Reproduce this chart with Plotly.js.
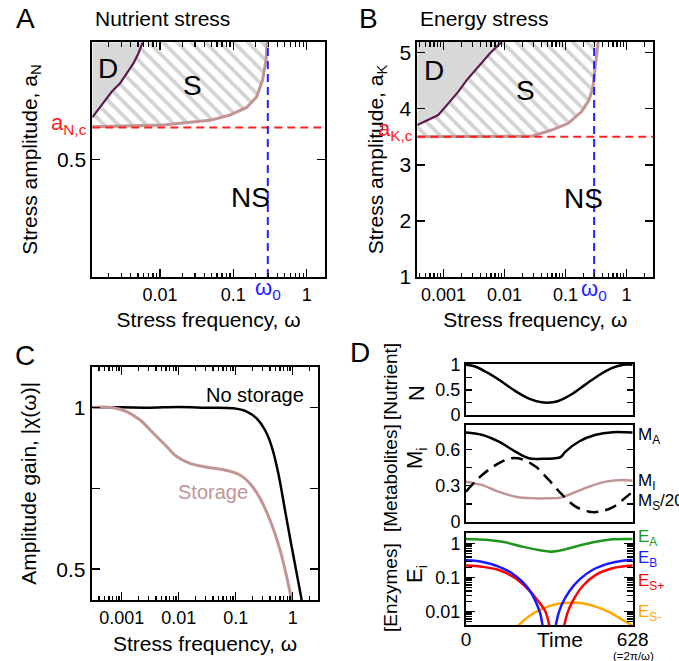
<!DOCTYPE html>
<html><head><meta charset="utf-8">
<script src="https://cdn.plot.ly/plotly-3.0.1.min.js"></script>
<style>html,body{margin:0;padding:0;background:#fff}#c{width:679px;height:661px}</style>
</head><body><div id="c"></div><script>
// ---------------- DATA ----------------
// Panel A: nutrient stress phase diagram
const aN_c = 0.555;
const omega0 = 0.295;
const A_D_omega = [0.00119, 0.00178, 0.00219, 0.00285, 0.00351, 0.00433, 0.00506, 0.00581];
const A_D_amp   = [0.572, 0.6015, 0.6157, 0.630, 0.647, 0.664, 0.681, 0.700];
const A_S_omega = [0.00119, 0.0111, 0.0481, 0.0901, 0.152, 0.208, 0.251, 0.279, 0.290];
const A_S_amp   = [0.556, 0.559, 0.567, 0.576, 0.589, 0.607, 0.636, 0.670, 0.700];
// Panel B: energy stress phase diagram
const aK_c = 3.5;
const B_D_omega = [0.000372, 0.00082, 0.0012, 0.00175, 0.0024, 0.00372, 0.00578, 0.0090];
const B_D_amp   = [3.709, 3.888, 4.096, 4.304, 4.51, 4.75, 4.99, 5.19];
const B_S_omega = [0.000372, 0.0279, 0.0593, 0.111, 0.184, 0.243, 0.279, 0.304, 0.324, 0.344];
const B_S_amp   = [3.5, 3.51, 3.62, 3.74, 3.95, 4.155, 4.36, 4.69, 4.99, 5.19];
// Panel C: amplitude gain
const C_noStor_omega = [0.000309, 0.001, 0.003, 0.01, 0.03, 0.0912, 0.156, 0.233, 0.327, 0.429, 0.561, 0.733, 0.959, 1.175, 1.44];
const C_noStor_gain  = [1.0, 1.0, 0.999, 1.001, 0.999, 0.997, 0.987, 0.966, 0.930, 0.879, 0.796, 0.683, 0.570, 0.488, 0.405];
const C_stor_omega = [0.000309, 0.000714, 0.00122, 0.0021, 0.0036, 0.00615, 0.00923, 0.0158, 0.031, 0.0695, 0.119, 0.178, 0.267, 0.4, 0.6, 0.785, 0.96];
const C_stor_gain  = [1.0, 0.999, 0.987, 0.961, 0.920, 0.879, 0.848, 0.827, 0.815, 0.805, 0.791, 0.765, 0.719, 0.652, 0.560, 0.477, 0.405];
// Panel D: time courses over one period (0..628)
const D_N_t = [0, 34, 84, 134, 185, 235, 285, 317, 348, 398, 448, 499, 549, 593, 628];
const D_N   = [1.0, 0.967, 0.833, 0.667, 0.48, 0.333, 0.253, 0.247, 0.28, 0.413, 0.6, 0.787, 0.933, 1.0, 1.0];
const D_MA_t = [0, 59, 122, 186, 236, 287, 337, 356, 375, 426, 489, 552, 628];
const D_MA   = [0.738, 0.719, 0.664, 0.581, 0.526, 0.521, 0.526, 0.535, 0.581, 0.664, 0.719, 0.741, 0.738];
const D_MI_t = [0, 59, 122, 186, 249, 312, 356, 401, 464, 527, 590, 628];
const D_MI   = [0.333, 0.306, 0.25, 0.209, 0.196, 0.196, 0.201, 0.237, 0.292, 0.333, 0.347, 0.341];
const D_MS_t = [0, 34, 85, 135, 172, 211, 262, 312, 363, 413, 464, 502, 552, 590, 628];
const D_MS20 = [0.25, 0.333, 0.43, 0.498, 0.526, 0.518, 0.457, 0.347, 0.223, 0.127, 0.085, 0.085, 0.121, 0.182, 0.25];
const D_EA_t = [0, 85, 148, 211, 274, 318, 362, 425, 489, 552, 628];
const D_EA   = [1.36, 1.27, 1.08, 0.81, 0.64, 0.575, 0.64, 0.86, 1.13, 1.33, 1.36];
const D_EB_t = [0, 59, 123, 173, 211, 243, 268, 281, 289, null, 337, 347, 360, 388, 426, 476, 540, 590, 628];
const D_EB   = [0.327, 0.29, 0.209, 0.133, 0.076, 0.038, 0.0155, 0.0079, 0.0035, null, 0.0035, 0.0079, 0.0155, 0.038, 0.085, 0.166, 0.26, 0.31, 0.327];
const D_ESp_t = [0, 59, 123, 186, 236, 274, 299, 315, null, 369, 382, 401, 438, 489, 552, 628];
const D_ESp   = [0.223, 0.207, 0.166, 0.095, 0.043, 0.0194, 0.01, 0.0035, null, 0.0035, 0.0089, 0.0194, 0.054, 0.119, 0.186, 0.223];
const D_ESm_t = [192, 236, 287, 337, 388, 438, 489, 540, 590, 625, 628];
const D_ESm   = [0.0035, 0.0071, 0.0118, 0.0163, 0.0181, 0.0174, 0.0138, 0.0095, 0.0056, 0.0038, 0.0035];
// Tick labels
const tickA_x = [0.01, 0.1, 1],            tickA_xt = ['0.01', '0.1', '1'];
const tickBC_x = [0.001, 0.01, 0.1, 1],    tickBC_xt = ['0.001', '0.01', '0.1', '1'];
const tickD_E = [0.01, 0.1, 1],            tickD_Et = ['0.01', '0.1', '1'];
const tickD_t = [0, 628],                  tickD_tt = ['0', '628'];

// ---------------- STYLE / LAYOUT ----------------
const W = 679, H = 661;
const FONT = 'Liberation Sans, Arial, sans-serif';
const ROSY = '#c29595', PLUM = '#5e1a4e', GRAYF = '#d8d8d8';
const px = (a, b) => [a / W, b / W];
const py = (top, bot) => [1 - bot / H, 1 - top / H];
const PX = v => v / W, PY = v => 1 - v / H;

const rangeAx = [-2.924, 0.25], rangeAy = [0.3, 0.7];
const rangeBx = [-3.43, 0.44], rangeBy = [1, 5.19];
const rangeCx = [-3.526, 0.45], rangeCy = [0.405, 1.1255];
const rangeD6 = [-2.4, 0.3];

function axis(o) {
  return Object.assign({
    showline: true, linecolor: '#000', linewidth: 2, mirror: 'allticks',
    ticks: 'inside', ticklen: 8, tickwidth: 1.5, tickcolor: '#000',
    showgrid: false, zeroline: false, fixedrange: true,
    tickfont: { family: FONT, size: 18, color: '#000' }
  }, o);
}
// minor log tick positions (2..9 within each decade)
function minorVals(lo, hi) {
  const v = [];
  for (let e = Math.floor(lo); e <= Math.ceil(hi); e++) {
    for (let m = 2; m <= 9; m++) {
      const val = m * Math.pow(10, e), l = Math.log10(val);
      if (l > lo && l < hi) v.push(val);
    }
  }
  return v;
}
const minorLog = (r, len) => ({ tickmode: 'array', tickvals: minorVals(r[0], r[1]), ticks: 'inside',
  ticklen: len || 4.5, tickwidth: 1.2, tickcolor: '#000', showgrid: false });
const ttl = (t, s) => ({ text: t, font: { family: FONT, size: s || 21, color: '#000' } });

const traces = [];
function phase(xa, ya, Dw, Da, Sw, Sa, xr, yr, crit, w0) {
  const xmin = Math.pow(10, xr[0]), xmax = Math.pow(10, xr[1]);
  traces.push({ x: [...Dw, xmin], y: [...Da, yr[1]], xaxis: xa, yaxis: ya, type: 'scatter', mode: 'lines',
    fill: 'toself', fillcolor: GRAYF, line: { width: 0 }, hoverinfo: 'skip', showlegend: false });
  traces.push({ x: [...Sw, ...Dw.slice().reverse()], y: [...Sa, ...Da.slice().reverse()], xaxis: xa, yaxis: ya,
    type: 'scatter', mode: 'lines', fill: 'toself', fillcolor: '#fff',
    fillpattern: { shape: '\\', bgcolor: '#fff', fgcolor: '#d3d3d3', size: 10, solidity: 0.38 },
    line: { width: 0 }, hoverinfo: 'skip', showlegend: false });
  traces.push({ x: Dw, y: Da, xaxis: xa, yaxis: ya, type: 'scatter', mode: 'lines', line: { color: PLUM, width: 2.2 }, showlegend: false });
  traces.push({ x: Sw, y: Sa, xaxis: xa, yaxis: ya, type: 'scatter', mode: 'lines', line: { color: ROSY, width: 3 }, showlegend: false });
  traces.push({ x: [xmin, xmax], y: [crit, crit], xaxis: xa, yaxis: ya, type: 'scatter', mode: 'lines', line: { color: '#ff2020', width: 2, dash: '8px,5px' }, showlegend: false });
  traces.push({ x: [w0, w0], y: yr, xaxis: xa, yaxis: ya, type: 'scatter', mode: 'lines', line: { color: '#2222ff', width: 2, dash: '8px,5px' }, showlegend: false });
}
phase('x', 'y', A_D_omega, A_D_amp, A_S_omega, A_S_amp, rangeAx, rangeAy, aN_c, omega0);
phase('x2', 'y2', B_D_omega, B_D_amp, B_S_omega, B_S_amp, rangeBx, rangeBy, aK_c, omega0);

traces.push({ x: C_noStor_omega, y: C_noStor_gain, xaxis: 'x3', yaxis: 'y3', type: 'scatter', mode: 'lines', line: { color: '#000', width: 2.5, shape: 'spline' }, showlegend: false });
traces.push({ x: C_stor_omega, y: C_stor_gain, xaxis: 'x3', yaxis: 'y3', type: 'scatter', mode: 'lines', line: { color: ROSY, width: 3, shape: 'spline' }, showlegend: false });

traces.push({ x: D_N_t, y: D_N, xaxis: 'x4', yaxis: 'y4', type: 'scatter', mode: 'lines', line: { color: '#000', width: 2.5, shape: 'spline' }, showlegend: false });
traces.push({ x: D_MI_t, y: D_MI, xaxis: 'x5', yaxis: 'y5', type: 'scatter', mode: 'lines', line: { color: ROSY, width: 2.5, shape: 'spline' }, showlegend: false });
traces.push({ x: D_MS_t, y: D_MS20, xaxis: 'x5', yaxis: 'y5', type: 'scatter', mode: 'lines', line: { color: '#000', width: 2.5, dash: '12px,7px', shape: 'spline' }, showlegend: false });
traces.push({ x: D_MA_t, y: D_MA, xaxis: 'x5', yaxis: 'y5', type: 'scatter', mode: 'lines', line: { color: '#000', width: 2.5, shape: 'spline' }, showlegend: false });
traces.push({ x: D_ESm_t, y: D_ESm, xaxis: 'x6', yaxis: 'y6', type: 'scatter', mode: 'lines', line: { color: '#ffa500', width: 2.5, shape: 'spline' }, showlegend: false });
traces.push({ x: D_EA_t, y: D_EA, xaxis: 'x6', yaxis: 'y6', type: 'scatter', mode: 'lines', line: { color: '#1e961e', width: 2.5, shape: 'spline' }, showlegend: false });
traces.push({ x: D_ESp_t, y: D_ESp, xaxis: 'x6', yaxis: 'y6', type: 'scatter', mode: 'lines', connectgaps: false, line: { color: '#ff0000', width: 2.5, shape: 'spline' }, showlegend: false });
traces.push({ x: D_EB_t, y: D_EB, xaxis: 'x6', yaxis: 'y6', type: 'scatter', mode: 'lines', connectgaps: false, line: { color: '#1a1aff', width: 2.5, shape: 'spline' }, showlegend: false });

function ann(text, x, y, size, color, o) {
  return Object.assign({ text: text, xref: 'paper', yref: 'paper', x: PX(x), y: PY(y), showarrow: false,
    xanchor: 'center', yanchor: 'middle', font: { family: FONT, size: size, color: color || '#000' } }, o || {});
}
const annotations = [
  ann('A', 25, 18, 28), ann('B', 368, 18, 28), ann('C', 25, 355, 28), ann('D', 360, 352, 28),
  ann('Nutrient stress', 93, 18, 21, '#000', { xanchor: 'left' }),
  ann('Energy stress', 418, 18, 21, '#000', { xanchor: 'left' }),
  ann('D', 108, 68, 28), ann('S', 192, 85, 28), ann('NS', 250, 197, 28),
  ann('D', 434, 70, 28), ann('S', 525, 90, 28), ann('NS', 583, 198, 28),
  ann('a<sub>N,c</sub>', 89, 124, 22, '#ff2020', { xanchor: 'right' }),
  ann('a<sub>K,c</sub>', 415, 130, 22, '#ff2020', { xanchor: 'right' }),
  ann('ω<sub>0</sub>', 268, 289, 22, '#2222ff'),
  ann('ω<sub>0</sub>', 594, 290, 22, '#2222ff'),
  ann('No storage', 255, 395, 20), ann('Storage', 213, 492, 20, ROSY),
  ann('[Nutrient]', 390, 381, 19, '#000', { textangle: -90 }),
  ann('N', 416, 393, 22, '#000', { textangle: -90 }),
  ann('[Metabolites]', 390, 478, 19, '#000', { textangle: -90 }),
  ann('M<sub>i</sub>', 416, 458, 22, '#000', { textangle: -90 }),
  ann('[Enzymes]', 390, 587, 19, '#000', { textangle: -90 }),
  ann('E<sub>i</sub>', 416, 574, 22, '#000', { textangle: -90 }),
  ann('M<sub>A</sub>', 636, 436, 17, '#000', { xanchor: 'left' }),
  ann('M<sub>I</sub>', 636, 482, 17, '#000', { xanchor: 'left' }),
  ann('M<sub>S</sub>/20', 636, 502, 17, '#000', { xanchor: 'left' }),
  ann('E<sub>A</sub>', 636, 538, 17, '#1e961e', { xanchor: 'left' }),
  ann('E<sub>B</sub>', 636, 559, 17, '#1a1aff', { xanchor: 'left' }),
  ann('E<sub>S+</sub>', 636, 582, 17, '#ff0000', { xanchor: 'left' }),
  ann('E<sub>S-</sub>', 636, 613, 17, '#ffa500', { xanchor: 'left' }),
  ann('Time', 560, 639, 21),
  ann('(=2π/ω)', 633, 655.5, 11.5)
];

const layout = {
  width: W, height: H, margin: { l: 0, r: 0, t: 0, b: 0 },
  paper_bgcolor: '#fff', plot_bgcolor: 'rgba(0,0,0,0)', showlegend: false,
  font: { family: FONT, color: '#000' },
  xaxis: axis({ type: 'log', range: rangeAx, domain: px(92.3, 325), anchor: 'y', tickmode: 'array', tickvals: tickA_x, ticktext: tickA_xt,
    minor: minorLog(rangeAx), title: Object.assign(ttl('Stress frequency, ω'), { standoff: 9 }) }),
  yaxis: axis({ range: rangeAy, domain: py(42.3, 277), anchor: 'x', tickmode: 'array', tickvals: [0.5],
    tickfont: { family: FONT, size: 21, color: '#000' },
    title: Object.assign(ttl('Stress amplitude, a<sub>N</sub>'), { standoff: 14 }) }),
  xaxis2: axis({ type: 'log', range: rangeBx, domain: px(417.3, 653.3), anchor: 'y2', tickmode: 'array', tickvals: tickBC_x, ticktext: tickBC_xt,
    minor: minorLog(rangeBx), title: Object.assign(ttl('Stress frequency, ω'), { standoff: 9 }) }),
  yaxis2: axis({ range: rangeBy, domain: py(42, 277), anchor: 'x2', dtick: 1, tick0: 0,
    tickfont: { family: FONT, size: 21, color: '#000' },
    title: Object.assign(ttl('Stress amplitude, a<sub>K</sub>'), { standoff: 10 }) }),
  xaxis3: axis({ type: 'log', range: rangeCx, domain: px(91.7, 318.3), anchor: 'y3', tickmode: 'array', tickvals: tickBC_x, ticktext: tickBC_xt,
    minor: minorLog(rangeCx), title: Object.assign(ttl('Stress frequency, ω'), { standoff: 10 }) }),
  yaxis3: axis({ range: rangeCy, domain: py(366.7, 600), anchor: 'x3', tickmode: 'array', tickvals: [0.5, 0.75, 1], ticktext: ['0.5', '', '1'],
    tickfont: { family: FONT, size: 21, color: '#000' },
    title: Object.assign(ttl('Amplitude gain, |χ(ω)|'), { standoff: 14 }) }),
  xaxis4: axis({ range: [0, 628], domain: px(466, 632.7), anchor: 'y4', ticks: '', showticklabels: false, mirror: true }),
  yaxis4: axis({ range: [0, 1.02], domain: py(363.8, 415), anchor: 'x4', tickmode: 'array', tickvals: [0, 0.25, 0.5, 0.75, 1], ticktext: ['0', '', '0.5', '', '1'], ticklen: 6 }),
  xaxis5: axis({ range: [0, 628], domain: px(466, 632.7), anchor: 'y5', ticks: '', showticklabels: false, mirror: true }),
  yaxis5: axis({ range: [0, 0.8], domain: py(425, 522), anchor: 'x5', tickmode: 'array', tickvals: [0, 0.15, 0.3, 0.45, 0.6], ticktext: ['0', '', '0.3', '', '0.6'], ticklen: 6 }),
  xaxis6: axis({ range: [0, 628], domain: px(466, 632.7), anchor: 'y6', ticks: '', mirror: true, tickmode: 'array', tickvals: tickD_t, ticktext: tickD_tt,
    ticklabelstandoff: -4, tickfont: { family: FONT, size: 19, color: '#000' } }),
  yaxis6: axis({ type: 'log', range: rangeD6, domain: py(533.3, 625), anchor: 'x6', tickmode: 'array', tickvals: tickD_E, ticktext: tickD_Et,
    ticklen: 9, minor: minorLog(rangeD6, 6) }),
  annotations: annotations
};

Plotly.newPlot('c', traces, layout, { displayModeBar: false, staticPlot: true });
</script></body></html>
